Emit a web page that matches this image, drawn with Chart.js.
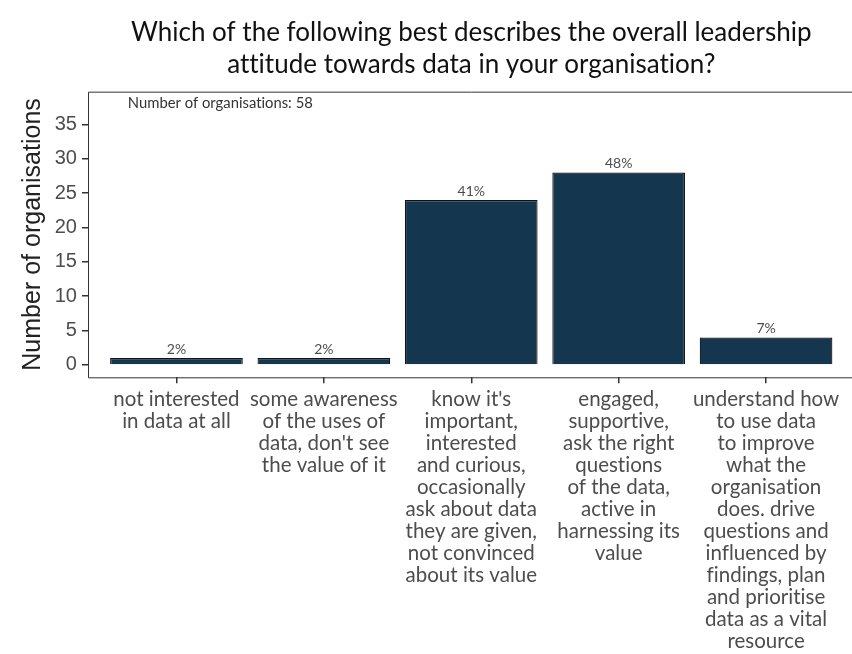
<!DOCTYPE html>
<html lang="en">
  <head>
    <meta charset="UTF-8" />
    <title>Leadership attitude towards data</title>
    <script src="https://cdn.jsdelivr.net/npm/chart.js"></script>
    <style>
      html, body { margin: 0; padding: 0; background: #fff; overflow: hidden; }
      #chart { position: absolute; left: 0; top: 0; }
    </style>
  </head>
  <body>
    <canvas id="chart" width="860" height="654"></canvas>

    <script>
      // answer categories (already wrapped into lines)
      const categories = [
        ["not interested", "in data at all"],
        ["some awareness", "of the uses of", "data, don't see", "the value of it"],
        ["know it's", "important,", "interested", "and curious,", "occasionally",
         "ask about data", "they are given,", "not convinced", "about its value"],
        ["engaged,", "supportive,", "ask the right", "questions", "of the data,",
         "active in", "harnessing its", "value"],
        ["understand how", "to use data", "to improve", "what the", "organisation",
         "does. drive", "questions and", "influenced by", "findings, plan",
         "and prioritise", "data as a vital", "resource"],
      ];
      const counts = [1, 1, 24, 28, 4];
      const totalOrgs = 58;
      const yTicks = [0, 5, 10, 15, 20, 25, 30, 35];

      const positions = categories.map((_, i) => i + 1);
      const pctLabels = counts.map((c) => Math.round((c / totalOrgs) * 100) + "%");

      const gray = "#4d4d4d";

      // a tiny letter spacing keeps Lato from drawing "ti" / "tt" ligatures
      const noLigatures = {
        id: "noLigatures",
        beforeDraw(chart) {
          if ("letterSpacing" in chart.ctx) chart.ctx.letterSpacing = "0.01px";
        },
      };

      // percentage above each bar, panel frame and the n= note
      const extras = {
        id: "extras",
        afterDatasetsDraw(chart) {
          const ctx = chart.ctx;
          const meta = chart.getDatasetMeta(0);
          ctx.save();
          ctx.font = "14px Lato";
          ctx.fillStyle = gray;
          ctx.textAlign = "center";
          ctx.textBaseline = "alphabetic";
          meta.data.forEach((bar, i) => {
            ctx.fillText(pctLabels[i], bar.x, bar.y - 4);
          });

          // frame: top, left and bottom (the right side runs off the page)
          const { left, right, top, bottom } = chart.chartArea;
          ctx.strokeStyle = "#333";
          ctx.lineWidth = 1;
          ctx.beginPath();
          ctx.moveTo(right, top + 0.5);
          ctx.lineTo(left + 0.5, top + 0.5);
          ctx.lineTo(left + 0.5, bottom + 0.5);
          ctx.lineTo(right, bottom + 0.5);
          ctx.stroke();

          const xs = chart.scales.x, ys = chart.scales.y;
          ctx.font = "14.8px Lato";
          ctx.fillStyle = "#333";
          ctx.textAlign = "left";
          ctx.textBaseline = "middle";
          ctx.fillText("Number of organisations: " + totalOrgs,
            xs.getPixelForValue(0.67), ys.getPixelForValue(38));
          ctx.restore();
        },
      };

      new Chart(document.getElementById("chart"), {
        type: "bar",
        data: {
          datasets: [
            {
              data: positions.map((x, i) => ({ x, y: counts[i] })),
              backgroundColor: "#15364f",
              borderColor: "#111",
              borderWidth: 1.2,
              barPercentage: 0.9,
              categoryPercentage: 1,
            },
          ],
        },
        plugins: [noLigatures, extras],
        options: {
          responsive: false,
          animation: false,
          devicePixelRatio: 1,
          layout: { padding: { left: 0, right: 5.5, top: 0, bottom: 0 } },
          plugins: {
            legend: { display: false },
            tooltip: { enabled: false },
            title: {
              display: true,
              fullSize: false,
              text: [
                "Which of the following best describes the overall leadership",
                "attitude towards data in your organisation?",
              ],
              color: "#111",
              font: { family: "Lato", size: 26, weight: "normal", lineHeight: 1.23 },
              padding: { top: 16.5, bottom: 11.2 },
            },
          },
          scales: {
            x: {
              type: "linear",
              offset: false,
              min: 0.4,
              max: 5.6,
              afterBuildTicks: (s) => { s.ticks = positions.map((v) => ({ value: v })); },
              afterFit: (s) => { s.height = 654 - 377.3; },
              border: { display: false },
              grid: { offset: false, drawOnChartArea: false, drawTicks: true, tickLength: 6, color: "#333", lineWidth: 1.5 },
              ticks: {
                autoSkip: false,
                maxRotation: 0,
                padding: 5.5,
                color: gray,
                font: { family: "Lato", size: 20.5, lineHeight: 1.073 },
                callback: (v) => categories[v - 1],
              },
            },
            y: {
              min: -1.8,
              max: 39.75,
              afterBuildTicks: (s) => { s.ticks = yTicks.map((v) => ({ value: v })); },
              afterFit: (s) => { s.width = 88; },
              border: { display: false },
              grid: { drawOnChartArea: false, drawTicks: true, tickLength: 6, color: "#333", lineWidth: 1.5 },
              ticks: {
                padding: 5,
                color: gray,
                font: { family: "Liberation Sans", size: 20 },
              },
              title: {
                display: true,
                text: "Number of organisations",
                color: "#222",
                font: { family: "Liberation Sans", size: 25 },
                padding: { top: 18, bottom: 0 },
              },
            },
          },
        },
      });
    </script>
  </body>
</html>
